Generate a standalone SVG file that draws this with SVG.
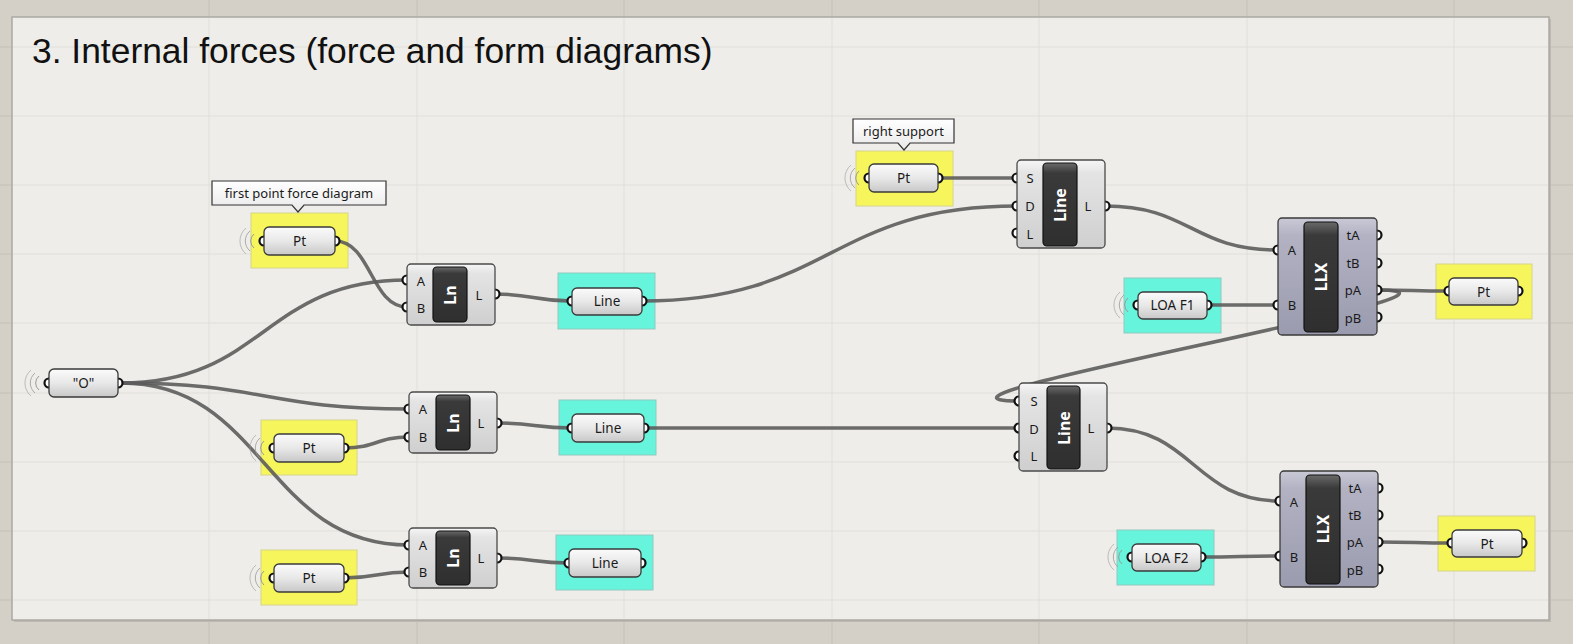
<svg xmlns="http://www.w3.org/2000/svg" width="1573" height="644" viewBox="0 0 1573 644">
<defs>
<linearGradient id="gParam" x1="0" y1="0" x2="0" y2="1"><stop offset="0" stop-color="#fbfbfb"/><stop offset="0.5" stop-color="#e8e8e8"/><stop offset="1" stop-color="#c8c8c8"/></linearGradient>
<linearGradient id="gComp" x1="0" y1="0" x2="0" y2="1"><stop offset="0" stop-color="#f6f6f6"/><stop offset="0.15" stop-color="#e4e4e4"/><stop offset="1" stop-color="#cfcfcf"/></linearGradient>
<linearGradient id="gLLX" x1="0" y1="0" x2="0" y2="1"><stop offset="0" stop-color="#c9c9d6"/><stop offset="0.15" stop-color="#b2b2c3"/><stop offset="1" stop-color="#9b9baf"/></linearGradient>
<linearGradient id="gBar" x1="0" y1="0" x2="0" y2="1"><stop offset="0" stop-color="#6a6a6a"/><stop offset="0.12" stop-color="#3a3a3a"/><stop offset="1" stop-color="#2f2f2f"/></linearGradient>
<linearGradient id="gCall" x1="0" y1="0" x2="0" y2="1"><stop offset="0" stop-color="#ffffff"/><stop offset="1" stop-color="#e8e8e8"/></linearGradient>
</defs>
<style>
.bg{fill:#d4d0c8}
.og{stroke:#c4c0b8;stroke-width:1}
.ig{stroke:#e0dfda;stroke-width:1}
.panel{fill:#eeede9;stroke:#aaa8a2;stroke-width:1.5}
.title{font-family:"Liberation Sans",Arial,sans-serif;font-size:35.4px;fill:#111}
.wire{fill:none;stroke:#5c5c5c;stroke-width:3.5;stroke-opacity:0.9}
.yel{fill:#f7f55c;stroke:#d6d48a;stroke-width:1}
.teal{fill:#66f5dc;stroke:#8fc9bd;stroke-width:1}
.pbox{fill:url(#gParam);stroke:#3a3a3a;stroke-width:1.3}
.cbox{fill:url(#gComp);stroke:#4a4a4a;stroke-width:1.3}
.lbox{fill:url(#gLLX);stroke:#3a3a3a;stroke-width:1.3}
.bar{fill:url(#gBar);stroke:#111;stroke-width:1.2}
.port{fill:#fff;stroke:#111;stroke-width:2.2}
.t{font-family:"Noto Sans","Open Sans",sans-serif;font-size:13.5px;fill:#1a1a1a;text-anchor:middle;dominant-baseline:central}
.pl{font-family:"Noto Sans","Open Sans",sans-serif;font-size:13px;fill:#1a1a1a;text-anchor:middle;dominant-baseline:central}
.bt{font-family:"Noto Sans","Open Sans",sans-serif;font-size:16px;font-weight:bold;fill:#fff;text-anchor:middle;dominant-baseline:central}
.call{fill:url(#gCall);stroke:#333;stroke-width:1.2}
.ct{font-family:"Noto Sans","Open Sans",sans-serif;font-size:13px;fill:#1a1a1a;text-anchor:middle;dominant-baseline:central}
.arc{fill:none;stroke:#9a9a9a;stroke-width:1}
</style>
<rect class="bg" x="0" y="0" width="1573" height="644"/>
<g id="grid-outer">
<line class="og" x1="209" y1="0" x2="209" y2="644"/><line class="og" x1="417" y1="0" x2="417" y2="644"/><line class="og" x1="624" y1="0" x2="624" y2="644"/><line class="og" x1="832" y1="0" x2="832" y2="644"/><line class="og" x1="1039" y1="0" x2="1039" y2="644"/><line class="og" x1="1247" y1="0" x2="1247" y2="644"/><line class="og" x1="1454" y1="0" x2="1454" y2="644"/>
<line class="og" x1="0" y1="47" x2="1573" y2="47"/><line class="og" x1="0" y1="116" x2="1573" y2="116"/><line class="og" x1="0" y1="185" x2="1573" y2="185"/><line class="og" x1="0" y1="254" x2="1573" y2="254"/><line class="og" x1="0" y1="323" x2="1573" y2="323"/><line class="og" x1="0" y1="393" x2="1573" y2="393"/><line class="og" x1="0" y1="462" x2="1573" y2="462"/><line class="og" x1="0" y1="531" x2="1573" y2="531"/><line class="og" x1="0" y1="600" x2="1573" y2="600"/>
</g>
<rect x="14" y="19" width="1537" height="603" fill="#bdbab3"/>
<rect class="panel" x="12" y="17" width="1537" height="603"/>
<g id="grid-inner">
<line class="ig" x1="209" y1="18" x2="209" y2="619"/><line class="ig" x1="417" y1="18" x2="417" y2="619"/><line class="ig" x1="624" y1="18" x2="624" y2="619"/><line class="ig" x1="832" y1="18" x2="832" y2="619"/><line class="ig" x1="1039" y1="18" x2="1039" y2="619"/><line class="ig" x1="1247" y1="18" x2="1247" y2="619"/><line class="ig" x1="1454" y1="18" x2="1454" y2="619"/>
<line class="ig" x1="13" y1="47" x2="1548" y2="47"/><line class="ig" x1="13" y1="116" x2="1548" y2="116"/><line class="ig" x1="13" y1="185" x2="1548" y2="185"/><line class="ig" x1="13" y1="254" x2="1548" y2="254"/><line class="ig" x1="13" y1="323" x2="1548" y2="323"/><line class="ig" x1="13" y1="393" x2="1548" y2="393"/><line class="ig" x1="13" y1="462" x2="1548" y2="462"/><line class="ig" x1="13" y1="531" x2="1548" y2="531"/><line class="ig" x1="13" y1="600" x2="1548" y2="600"/>
</g>
<text class="title" x="32" y="63">3. Internal forces (force and form diagrams)</text>

<g id="groups">
<rect id="grp-pt-first" class="yel" x="251" y="213" width="97" height="55"/>
<rect id="grp-pt-mid" class="yel" x="261" y="420" width="96" height="55"/>
<rect id="grp-pt-bottom" class="yel" x="261" y="550" width="96" height="55"/>
<rect id="grp-line-1" class="teal" x="558" y="273" width="97" height="56"/>
<rect id="grp-line-2" class="teal" x="559" y="400" width="97" height="55"/>
<rect id="grp-line-3" class="teal" x="556" y="535" width="97" height="55"/>
<rect id="grp-pt-right-support" class="yel" x="856" y="151" width="97" height="55"/>
<rect id="grp-loa-f1" class="teal" x="1124" y="278" width="97" height="55"/>
<rect id="grp-loa-f2" class="teal" x="1117" y="530" width="97" height="55"/>
<rect id="grp-pt-out-1" class="yel" x="1436" y="264" width="96" height="55"/>
<rect id="grp-pt-out-2" class="yel" x="1438" y="516" width="97" height="55"/>
</g>

<g id="wires">
<path class="wire" d="M121,383 C264,383 264,280 407,280"/>
<path class="wire" d="M121,383 C265,383 265,409 409,409"/>
<path class="wire" d="M121,383 C265,383 265,545 409,545"/>
<path class="wire" d="M335,241 C371,241 371,307 407,307"/>
<path class="wire" d="M344,448 C377,448 376,437 409,437"/>
<path class="wire" d="M344,578 C377,578 376,572 409,572"/>
<path class="wire" d="M495,294 C533,294 534,301 572,301"/>
<path class="wire" d="M497,423 C534,423 535,428 572,428"/>
<path class="wire" d="M497,558 C533,558 533,563 569,563"/>
<path class="wire" d="M642,301 C830,301 830,206 1017,206"/>
<path class="wire" d="M938,178 C978,178 977,178 1017,178"/>
<path class="wire" d="M1105,206 C1190,206 1192,250 1278,250"/>
<path class="wire" d="M1207,305 C1243,305 1242,305 1278,305"/>
<path class="wire" d="M1377,290 C1413,290 1413,291 1449,291"/>
<path class="wire" d="M1377,290 C1527,290 869,401 1019,401"/>
<path class="wire" d="M644,428 C831,428 832,428 1019,428"/>
<path class="wire" d="M1107,428 C1193,428 1194,501 1280,501"/>
<path class="wire" d="M1201,557 C1240,557 1241,556 1280,556"/>
<path class="wire" d="M1378,542 C1415,542 1415,543 1452,543"/>
</g>

<g id="node-O">
<path class="arc" d="M39,376 A9,9 0 0 0 39,390"/><path class="arc" d="M35,373 A13,13 0 0 0 35,393" opacity="0.8"/><path class="arc" d="M31,370 A17,17 0 0 0 31,396" opacity="0.6"/>
<circle class="port" cx="49" cy="383" r="4.5"/><circle class="port" cx="118" cy="383" r="4.5"/>
<rect class="pbox" x="49" y="369" width="69" height="28" rx="5"/>
<text class="t" x="83.5" y="383">"O"</text>
</g>

<g id="node-pt-first">
<path class="call" d="M212,181 H386 V205 H304 L298,212 L292,205 H212 Z"/>
<text class="ct" x="299" y="193">first point force diagram</text>
<path class="arc" d="M254,234 A9,9 0 0 0 254,248"/><path class="arc" d="M250,231 A13,13 0 0 0 250,251" opacity="0.8"/><path class="arc" d="M246,228 A17,17 0 0 0 246,254" opacity="0.6"/>
<circle class="port" cx="264" cy="241" r="4.5"/><circle class="port" cx="335" cy="241" r="4.5"/>
<rect class="pbox" x="264" y="227" width="71" height="28" rx="5"/>
<text class="t" x="299.5" y="241">Pt</text>
</g>

<g id="node-pt-mid">
<path class="arc" d="M264,441 A9,9 0 0 0 264,455"/><path class="arc" d="M260,438 A13,13 0 0 0 260,458" opacity="0.8"/><path class="arc" d="M256,435 A17,17 0 0 0 256,461" opacity="0.6"/>
<circle class="port" cx="274" cy="448" r="4.5"/><circle class="port" cx="344" cy="448" r="4.5"/>
<rect class="pbox" x="274" y="434" width="70" height="28" rx="5"/>
<text class="t" x="309" y="448">Pt</text>
</g>

<g id="node-pt-bottom">
<path class="arc" d="M264,571 A9,9 0 0 0 264,585"/><path class="arc" d="M260,568 A13,13 0 0 0 260,588" opacity="0.8"/><path class="arc" d="M256,565 A17,17 0 0 0 256,591" opacity="0.6"/>
<circle class="port" cx="274" cy="578" r="4.5"/><circle class="port" cx="344" cy="578" r="4.5"/>
<rect class="pbox" x="274" y="564" width="70" height="28" rx="5"/>
<text class="t" x="309" y="578">Pt</text>
</g>

<g id="node-ln-1">
<circle class="port" cx="407" cy="280" r="4.5"/><circle class="port" cx="407" cy="307" r="4.5"/><circle class="port" cx="495" cy="294" r="4.5"/>
<rect class="cbox" x="407" y="264" width="88" height="61" rx="4"/>
<rect class="bar" x="433" y="267" width="34" height="55" rx="4"/>
<text class="bt" transform="translate(450,295) rotate(-90)">Ln</text>
<text class="pl" x="421" y="281">A</text><text class="pl" x="421" y="308">B</text><text class="pl" x="479" y="295">L</text>
</g>

<g id="node-ln-2">
<circle class="port" cx="409" cy="409" r="4.5"/><circle class="port" cx="409" cy="437" r="4.5"/><circle class="port" cx="497" cy="423" r="4.5"/>
<rect class="cbox" x="409" y="392" width="88" height="61" rx="4"/>
<rect class="bar" x="436" y="395" width="34" height="55" rx="4"/>
<text class="bt" transform="translate(453,423) rotate(-90)">Ln</text>
<text class="pl" x="423" y="409">A</text><text class="pl" x="423" y="437">B</text><text class="pl" x="481" y="423">L</text>
</g>

<g id="node-ln-3">
<circle class="port" cx="409" cy="545" r="4.5"/><circle class="port" cx="409" cy="572" r="4.5"/><circle class="port" cx="497" cy="558" r="4.5"/>
<rect class="cbox" x="409" y="528" width="88" height="60" rx="4"/>
<rect class="bar" x="436" y="531" width="34" height="54" rx="4"/>
<text class="bt" transform="translate(453,558) rotate(-90)">Ln</text>
<text class="pl" x="423" y="545">A</text><text class="pl" x="423" y="572">B</text><text class="pl" x="481" y="558">L</text>
</g>

<g id="node-line-1">
<circle class="port" cx="572" cy="301" r="4.5"/><circle class="port" cx="642" cy="301" r="4.5"/>
<rect class="pbox" x="572" y="288" width="70" height="27" rx="5"/>
<text class="t" x="607" y="301">Line</text>
</g>

<g id="node-line-2">
<circle class="port" cx="572" cy="428" r="4.5"/><circle class="port" cx="644" cy="428" r="4.5"/>
<rect class="pbox" x="572" y="414" width="72" height="28" rx="5"/>
<text class="t" x="608" y="428">Line</text>
</g>

<g id="node-line-3">
<circle class="port" cx="569" cy="563" r="4.5"/><circle class="port" cx="641" cy="563" r="4.5"/>
<rect class="pbox" x="569" y="549" width="72" height="28" rx="5"/>
<text class="t" x="605" y="563">Line</text>
</g>

<g id="node-pt-right-support">
<path class="call" d="M853,119 H954 V143 H910 L904,150 L898,143 H853 Z"/>
<text class="ct" x="903.5" y="131">right support</text>
<path class="arc" d="M859,171 A9,9 0 0 0 859,185"/><path class="arc" d="M855,168 A13,13 0 0 0 855,188" opacity="0.8"/><path class="arc" d="M851,165 A17,17 0 0 0 851,191" opacity="0.6"/>
<circle class="port" cx="869" cy="178" r="4.5"/><circle class="port" cx="938" cy="178" r="4.5"/>
<rect class="pbox" x="869" y="164" width="69" height="28" rx="5"/>
<text class="t" x="903.5" y="178">Pt</text>
</g>

<g id="node-line-comp-1">
<circle class="port" cx="1017" cy="178" r="4.5"/><circle class="port" cx="1017" cy="206" r="4.5"/><circle class="port" cx="1017" cy="233" r="4.5"/><circle class="port" cx="1105" cy="206" r="4.5"/>
<rect class="cbox" x="1017" y="160" width="88" height="88" rx="4"/>
<rect class="bar" x="1043" y="163" width="34" height="83" rx="4"/>
<text class="bt" transform="translate(1060,205) rotate(-90)">Line</text>
<text class="pl" x="1030" y="178">S</text><text class="pl" x="1030" y="206">D</text><text class="pl" x="1030" y="234">L</text><text class="pl" x="1088" y="206">L</text>
</g>

<g id="node-line-comp-2">
<circle class="port" cx="1019" cy="401" r="4.5"/><circle class="port" cx="1019" cy="428" r="4.5"/><circle class="port" cx="1019" cy="456" r="4.5"/><circle class="port" cx="1107" cy="428" r="4.5"/>
<rect class="cbox" x="1019" y="383" width="88" height="88" rx="4"/>
<rect class="bar" x="1047" y="386" width="33" height="83" rx="4"/>
<text class="bt" transform="translate(1063.5,428) rotate(-90)">Line</text>
<text class="pl" x="1034" y="401">S</text><text class="pl" x="1034" y="429">D</text><text class="pl" x="1034" y="456">L</text><text class="pl" x="1091" y="428">L</text>
</g>

<g id="node-loa-f1">
<path class="arc" d="M1128,298 A9,9 0 0 0 1128,312"/><path class="arc" d="M1124,295 A13,13 0 0 0 1124,315" opacity="0.8"/><path class="arc" d="M1120,292 A17,17 0 0 0 1120,318" opacity="0.6"/>
<circle class="port" cx="1138" cy="305" r="4.5"/><circle class="port" cx="1207" cy="305" r="4.5"/>
<rect class="pbox" x="1138" y="292" width="69" height="27" rx="5"/>
<text class="t" x="1172.5" y="305">LOA F1</text>
</g>

<g id="node-loa-f2">
<path class="arc" d="M1122,550 A9,9 0 0 0 1122,564"/><path class="arc" d="M1118,547 A13,13 0 0 0 1118,567" opacity="0.8"/><path class="arc" d="M1114,544 A17,17 0 0 0 1114,570" opacity="0.6"/>
<circle class="port" cx="1132" cy="557" r="4.5"/><circle class="port" cx="1201" cy="557" r="4.5"/>
<rect class="pbox" x="1132" y="544" width="69" height="27" rx="5"/>
<text class="t" x="1166.5" y="557.5">LOA F2</text>
</g>

<g id="node-llx-1">
<circle class="port" cx="1278" cy="250" r="4.5"/><circle class="port" cx="1278" cy="305" r="4.5"/>
<circle class="port" cx="1377" cy="235" r="4.5"/><circle class="port" cx="1377" cy="263" r="4.5"/><circle class="port" cx="1377" cy="290" r="4.5"/><circle class="port" cx="1377" cy="317" r="4.5"/>
<rect class="lbox" x="1278" y="218" width="99" height="117" rx="4"/>
<rect class="bar" x="1304" y="222" width="34" height="110" rx="4"/>
<text class="bt" transform="translate(1321,277) rotate(-90)">LLX</text>
<text class="pl" x="1292" y="250">A</text><text class="pl" x="1292" y="305">B</text>
<text class="pl" x="1353" y="235">tA</text><text class="pl" x="1353" y="263">tB</text><text class="pl" x="1353" y="290">pA</text><text class="pl" x="1353" y="318">pB</text>
</g>

<g id="node-llx-2">
<circle class="port" cx="1280" cy="501" r="4.5"/><circle class="port" cx="1280" cy="556" r="4.5"/>
<circle class="port" cx="1378" cy="488" r="4.5"/><circle class="port" cx="1378" cy="515" r="4.5"/><circle class="port" cx="1378" cy="542" r="4.5"/><circle class="port" cx="1378" cy="569" r="4.5"/>
<rect class="lbox" x="1280" y="471" width="98" height="116" rx="4"/>
<rect class="bar" x="1306" y="475" width="34" height="109" rx="4"/>
<text class="bt" transform="translate(1323,529) rotate(-90)">LLX</text>
<text class="pl" x="1294" y="502">A</text><text class="pl" x="1294" y="557">B</text>
<text class="pl" x="1355" y="488">tA</text><text class="pl" x="1355" y="515">tB</text><text class="pl" x="1355" y="542">pA</text><text class="pl" x="1355" y="570">pB</text>
</g>

<g id="node-pt-out-1">
<circle class="port" cx="1449" cy="291" r="4.5"/><circle class="port" cx="1518" cy="291" r="4.5"/>
<rect class="pbox" x="1449" y="278" width="69" height="27" rx="5"/>
<text class="t" x="1483.5" y="291.5">Pt</text>
</g>

<g id="node-pt-out-2">
<circle class="port" cx="1452" cy="543" r="4.5"/><circle class="port" cx="1522" cy="543" r="4.5"/>
<rect class="pbox" x="1452" y="530" width="70" height="27" rx="5"/>
<text class="t" x="1487" y="543.5">Pt</text>
</g>
</svg>
